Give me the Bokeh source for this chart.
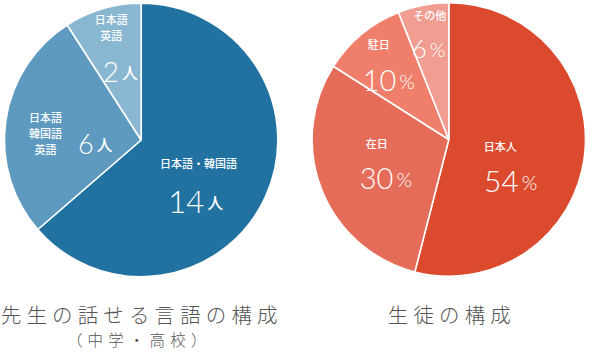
import math
from bokeh.plotting import figure
from bokeh.models import ColumnDataSource, Range1d
from bokeh.core.properties import value
from bokeh.embed import file_html
from bokeh.resources import INLINE

# ---- data ----
teacher_labels = ["日本語・韓国語", "日本語\n韓国語\n英語", "日本語\n英語"]
teacher_counts = [14, 6, 2]
teacher_unit = "人"
teacher_colors = ["#2272a1", "#5e9ac0", "#89b6d1"]
teacher_title = "先生の話せる言語の構成"
teacher_subtitle = "（中学・高校）"

student_labels = ["日本人", "在日", "駐日", "その他"]
student_pcts = [54, 30, 10, 6]
student_unit = "%"
student_colors = ["#dc4a2e", "#e46c58", "#ef7e6a", "#f19d91"]
student_title = "生徒の構成"

# ---- layout (reference pixel coordinates) ----
W, H = 585, 348
R = 139.5
centers = [(145.5, 141.5), (459.5, 141.0)]
teacher_lab_pos = [(204, 164), (48, 134.5), (115, 28)]
teacher_num_pos = [(210, 203), (97, 145), (123, 73)]
teacher_num_size = ["31px", "27px", "28px"]
student_lab_pos = [(512, 147), (386, 144), (388, 45), (440, 16)]
student_num_pos = [(531, 183), (403, 180), (406, 82), (437, 50)]
student_num_size = ["30px", "29px", "29px", "26px"]

p = figure(width=W, height=H, output_backend="svg", toolbar_location=None,
           x_range=Range1d(2, 599), y_range=Range1d(-350, -2),
           min_border=0, outline_line_color=None)
p.axis.visible = False
p.grid.visible = False
p.background_fill_color = "white"
p.border_fill_color = "white"

DIGIT_FONT = value("Lato Light")
JP_FONT = value("Noto Sans CJK JP Medium")
TITLE_FONT = value("Noto Sans CJK JP Light")


def pie(center, vals, colors):
    tot = float(sum(vals))
    starts, ends = [], []
    acc = 0.0
    for v in vals:
        starts.append(math.pi / 2 - 2 * math.pi * acc / tot)
        acc += v
        ends.append(math.pi / 2 - 2 * math.pi * acc / tot)
    src = ColumnDataSource(dict(x=[center[0]] * len(vals), y=[-center[1]] * len(vals),
                                sa=starts, ea=ends, c=colors))
    p.wedge(x="x", y="y", radius=R, start_angle="sa", end_angle="ea", direction="clock",
            fill_color="c", line_color="white", line_width=1.6, source=src)


def labels(labs, lab_pos, vals, num_pos, sizes, unit, unit_size):
    src = ColumnDataSource(dict(x=[q[0] for q in lab_pos], y=[-q[1] for q in lab_pos], t=labs))
    p.text(x="x", y="y", text="t", source=src, text_font=JP_FONT, text_font_size="11px",
           text_color="white", text_align="center", text_baseline="middle",
           text_line_height=1.0)
    nsrc = ColumnDataSource(dict(x=[q[0] for q in num_pos], y=[-q[1] for q in num_pos],
                                 t=[str(v) for v in vals], fs=sizes,
                                 ux=[q[0] + 3 for q in num_pos], u=[unit] * len(vals)))
    p.text(x="x", y="y", text="t", source=nsrc, text_font=DIGIT_FONT, text_font_size="fs",
           text_color="white", text_align="right", text_baseline="alphabetic")
    p.text(x="ux", y="y", text="u", source=nsrc, text_font=DIGIT_FONT if unit == "%" else JP_FONT,
           text_font_size=unit_size, text_color="white", text_align="left",
           text_baseline="alphabetic")


pie(centers[0], teacher_counts, teacher_colors)
pie(centers[1], student_pcts, student_colors)
labels(teacher_labels, teacher_lab_pos, teacher_counts, teacher_num_pos, teacher_num_size,
       teacher_unit, "16px")
labels(student_labels, student_lab_pos, student_pcts, student_num_pos, student_num_size,
       student_unit, "20px")

tsrc = ColumnDataSource(dict(x=[143.5, 141, 460], y=[-315, -340, -315],
                             t=["\u2005".join(teacher_title), "\u2004".join(teacher_subtitle),
                                "\u2005".join(student_title)],
                             fs=["20.5px", "15.5px", "20.5px"]))
p.text(x="x", y="y", text="t", source=tsrc, text_font=TITLE_FONT, text_font_size="fs",
       text_color="#555555", text_align="center", text_baseline="middle")

open("out.html", "w").write(file_html(p, INLINE))
